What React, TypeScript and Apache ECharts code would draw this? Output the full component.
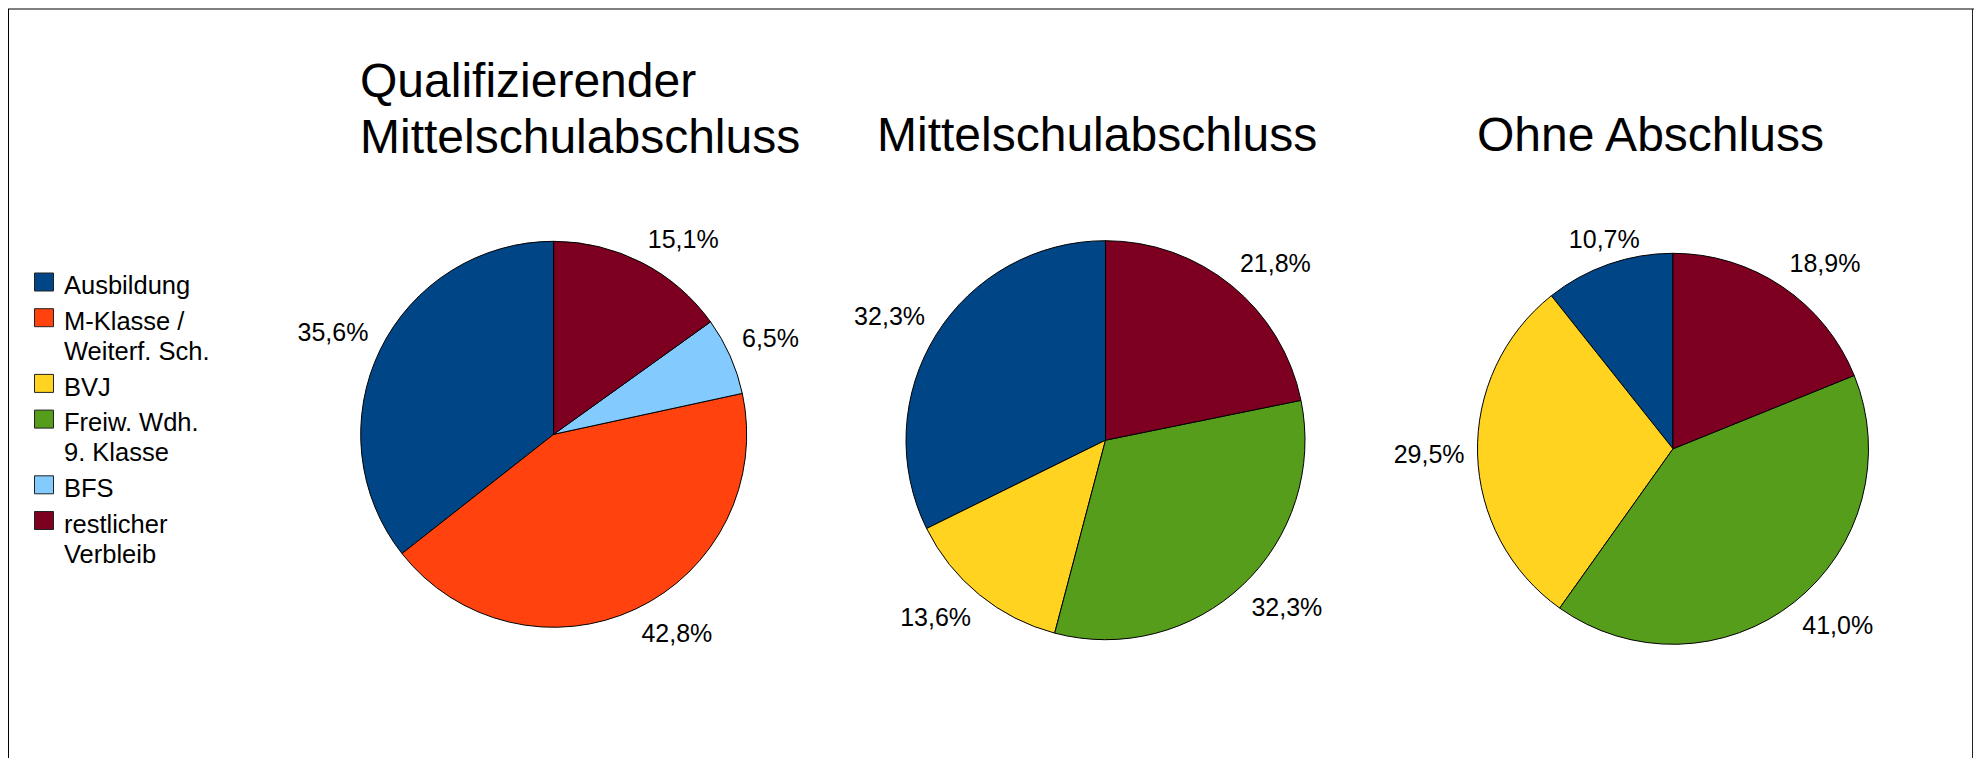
import React, { useEffect, useRef } from "react";
import * as echarts from "echarts";

// ---- data ----
const categories = [
  "Ausbildung",
  "M-Klasse /\nWeiterf. Sch.",
  "BVJ",
  "Freiw. Wdh.\n9. Klasse",
  "BFS",
  "restlicher\nVerbleib",
];
const colors = ["#004586", "#ff420e", "#ffd320", "#579d1c", "#83caff", "#7e0021"];
const pieTitles = ["Qualifizierender\nMittelschulabschluss", "Mittelschulabschluss", "Ohne Abschluss"];
const qualiValues = [35.6, 42.8, 0, 0, 6.5, 15.1];
const mittelValues = [32.3, 0, 13.6, 32.3, 0, 21.8];
const ohneValues = [10.7, 0, 29.5, 41.0, 0, 18.9];

const FONT = "'Liberation Sans', Arial, Helvetica, sans-serif";
const W = 1975;
const H = 758;

const fmt = (p: any) => Number(p.value).toFixed(1).replace(".", ",") + "%";

const labelLayout = (p: any) => {
  const pts = p.labelLinePoints;
  if (!pts || pts.length < 2) return {};
  const [x1, y1] = pts[0];
  const [x2, y2] = pts[1];
  const len = Math.hypot(x2 - x1, y2 - y1) || 1;
  const dx = (x2 - x1) / len;
  const dy = (y2 - y1) / len;
  const lim = Math.sin(Math.PI / 8);
  return {
    x: x2,
    y: y2,
    align: Math.abs(dx) < lim ? "center" : dx > 0 ? "left" : "right",
    verticalAlign: Math.abs(dy) < lim ? "middle" : dy < 0 ? "bottom" : "top",
  };
};

function makePie(name: string, values: number[], center: number[], radius: number) {
  return {
    type: "pie",
    name,
    center,
    radius,
    startAngle: 90,
    clockwise: false,
    avoidLabelOverlap: false,
    silent: true,
    emphasis: { disabled: true },
    itemStyle: { borderColor: "#000", borderWidth: 1 },
    label: {
      show: true,
      position: "outside",
      formatter: fmt,
      fontSize: 25,
      fontFamily: FONT,
      color: "#000",
      distanceToLabelLine: 0,
    },
    labelLine: {
      show: true,
      length: 13,
      length2: 1,
      minTurnAngle: 0,
      lineStyle: { width: 0, opacity: 0 },
    },
    labelLayout,
    data: values
      .map((v, i) => ({ name: categories[i], value: v, itemStyle: { color: colors[i] } }))
      .filter((d) => d.value > 0),
  };
}

export default function App() {
  const ref = useRef<HTMLDivElement>(null);

  useEffect(() => {
    document.body.style.margin = "0";
    document.body.style.overflow = "hidden";
    if (!ref.current) return;
    const chart = echarts.init(ref.current, undefined, { renderer: "svg" });

    const graphics: any[] = [
      { type: "line", silent: true, shape: { x1: 8, y1: 9, x2: 1974, y2: 9 }, style: { stroke: "#808080", lineWidth: 2 } },
      { type: "line", silent: true, shape: { x1: 8.5, y1: 9, x2: 8.5, y2: H }, style: { stroke: "#000", lineWidth: 1 } },
      { type: "line", silent: true, shape: { x1: 1972.5, y1: 9, x2: 1972.5, y2: H }, style: { stroke: "#222", lineWidth: 1 } },
    ];
    let y = 272.5;
    categories.forEach((name, i) => {
      const lines = name.split("\n").length;
      graphics.push({
        type: "rect",
        silent: true,
        shape: { x: 34.5, y: y + 0.5, width: 19, height: 18 },
        style: { fill: colors[i], stroke: "#222", lineWidth: 1 },
      });
      graphics.push({
        type: "text",
        silent: true,
        x: 64,
        y: y - 2.4,
        style: {
          text: name,
          fontSize: 25.5,
          lineHeight: 30,
          fontFamily: FONT,
          fill: "#000",
          verticalAlign: "top",
          align: "left",
        },
      });
      y += lines * 30 + 5.7;
    });

    const titleStyle = { fontSize: 48, lineHeight: 56, fontWeight: "normal", fontFamily: FONT, color: "#000" };

    chart.setOption({
      animation: false,
      backgroundColor: "#fff",
      title: [
        { text: pieTitles[0], left: 360, top: 52.5, padding: 0, textStyle: titleStyle },
        { text: pieTitles[1], left: 877, top: 106.5, padding: 0, textStyle: titleStyle },
        { text: pieTitles[2], left: 1477, top: 106.5, padding: 0, textStyle: titleStyle },
      ],
      graphic: graphics,
      series: [
        makePie(pieTitles[0], qualiValues, [553.7, 434.3], 193),
        makePie(pieTitles[1], mittelValues, [1105.5, 440.2], 199.5),
        makePie(pieTitles[2], ohneValues, [1673, 448.8], 195.5),
      ],
    });

    return () => {
      chart.dispose();
    };
  }, []);

  return <div ref={ref} style={{ width: W, height: H }} />;
}
